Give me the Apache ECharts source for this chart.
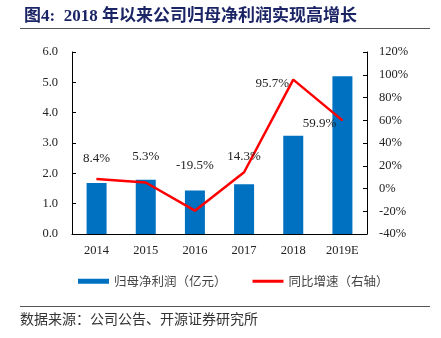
<!DOCTYPE html>
<html><head><meta charset="utf-8">
<script src="https://cdn.jsdelivr.net/npm/echarts@6/dist/echarts.min.js"></script>
<style>html,body{margin:0;padding:0;background:#fff;}#c{width:441px;height:338px;}</style>
</head><body><div id="c"></div>
<script>
var categories = ['2014','2015','2016','2017','2018','2019E'];
var profit = [1.68, 1.79, 1.43, 1.64, 3.24, 5.20];
var growth = [8.4, 5.3, -19.5, 14.3, 95.7, 59.9];
var leftTicks = {min: 0, max: 6, interval: 1};
var rightTicks = {min: -40, max: 120, interval: 20};
var titleText = '图4:  2018 年以来公司归母净利润实现高增长';
var sourceText = '数据来源：公司公告、开源证券研究所';
var seriesNames = ['归母净利润（亿元）', '同比增速（右轴）'];

var labelOffsets = [[0,-20],[0,-26],[0,-45],[0,-16],[-21,4],[-23,3]];
var serif = '"Times New Roman","Liberation Serif",serif';
var cjk = '"Noto Sans CJK SC",sans-serif';

var chart = echarts.init(document.getElementById('c'));
chart.setOption({
  animation: false,
  backgroundColor: '#fff',
  title: {
    text: titleText, left: 19, top: 3,
    textStyle: {fontSize: 17, fontWeight: 'bold', color: '#1B2566', fontFamily: '"Liberation Serif","Noto Sans CJK SC",serif'}
  },
  graphic: [
    {type: 'line', shape: {x1: 20, y1: 28.5, x2: 430, y2: 28.5}, style: {stroke: '#555', lineWidth: 1}},
    {type: 'line', shape: {x1: 20, y1: 306.5, x2: 430, y2: 306.5}, style: {stroke: '#555', lineWidth: 1}},
    {type: 'text', left: 20, top: 312, style: {text: sourceText, fontSize: 14, fill: '#333', fontFamily: cjk}}
  ],
  legend: {
    top: 270, left: 73, itemGap: 26, itemWidth: 31, itemHeight: 5,
    textStyle: {fontSize: 12.5, color: '#444', fontFamily: cjk},
    data: [{name: seriesNames[0], icon: 'rect'},
           {name: seriesNames[1], icon: 'path://M0,0L31,0L31,3L0,3Z'}]
  },
  grid: {left: 72, right: 74, top: 52, bottom: 104},
  xAxis: {
    type: 'category', data: categories,
    axisLine: {lineStyle: {color: '#000'}},
    axisTick: {show: false},
    axisLabel: {fontSize: 12.5, color: '#222', fontFamily: serif, margin: 10}
  },
  yAxis: [
    {type: 'value', min: leftTicks.min, max: leftTicks.max, interval: leftTicks.interval,
     axisLine: {show: true, lineStyle: {color: '#000'}},
     axisTick: {show: true, inside: true, length: 4},
     splitLine: {show: false},
     axisLabel: {fontSize: 12.5, color: '#222', fontFamily: serif, margin: 14,
       formatter: function(v){return v.toFixed(1);}}},
    {type: 'value', min: rightTicks.min, max: rightTicks.max, interval: rightTicks.interval,
     position: 'right',
     axisLine: {show: true, lineStyle: {color: '#000'}},
     axisTick: {show: true, inside: true, length: 4},
     splitLine: {show: false},
     axisLabel: {fontSize: 12.5, color: '#222', fontFamily: serif, margin: 12,
       formatter: function(v){return v + '%';}}}
  ],
  series: [
    {name: seriesNames[0], type: 'bar', data: profit, barWidth: 20,
     itemStyle: {color: '#0070C0'}},
    {name: seriesNames[1], type: 'line', yAxisIndex: 1,
     symbol: 'circle', symbolSize: 1, showSymbol: true,
     lineStyle: {color: '#FF0000', width: 2.5}, itemStyle: {color: '#FF0000'},
     data: growth.map(function(v, i){
       return {value: v, label: {offset: labelOffsets[i]}};
     }),
     label: {show: true, position: 'inside', fontSize: 13, color: '#222', fontFamily: serif,
       formatter: function(p){return p.value.toFixed(1) + '%';}}}
  ]
});
</script></body></html>
